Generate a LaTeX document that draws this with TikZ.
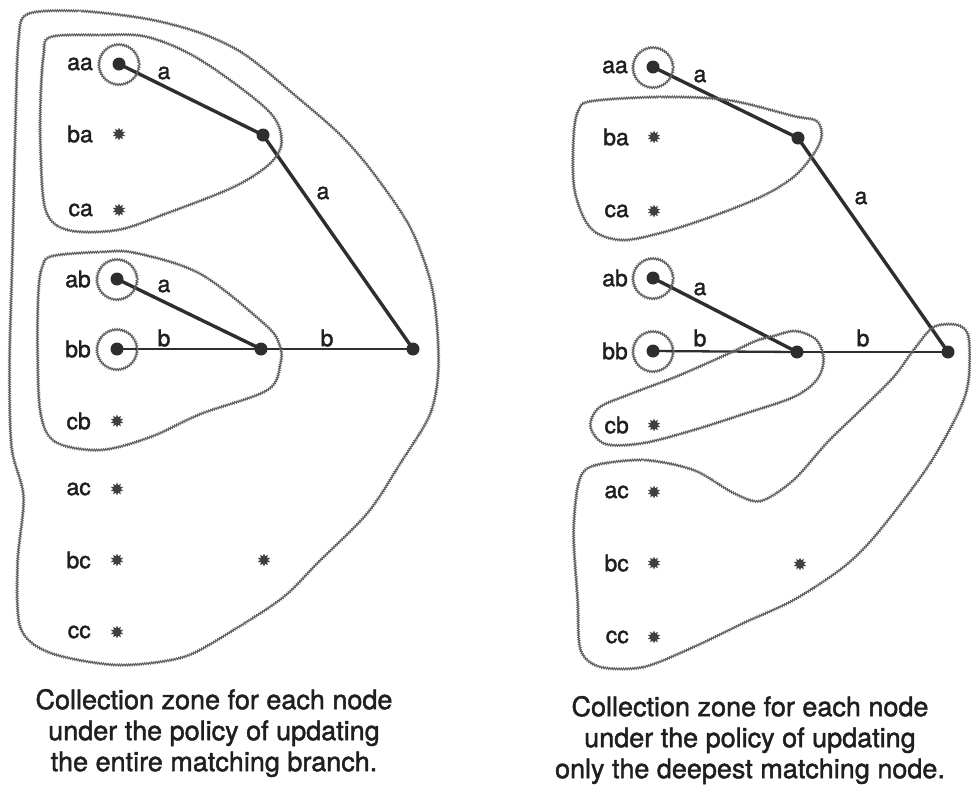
\documentclass[tikz,border=0pt]{standalone}
\usepackage{fontspec}
\setmainfont[FakeBold=1.6]{TeX Gyre Heros}
\usetikzlibrary{shapes.geometric,decorations.pathmorphing}
\tikzset{
  zone/.style={draw=black!62, line width=1.1pt, decorate,
    decoration={snake, amplitude=0.9pt, segment length=2.3pt}},
  leafdot/.style={circle, fill=black!82, inner sep=0pt, minimum size=13pt},
  innerdot/.style={circle, fill=black!82, inner sep=0pt, minimum size=13pt},
  stardot/.style={star, star points=10, star point ratio=1.7, fill=black!75, inner sep=0pt, minimum size=13pt},
  thickedge/.style={draw=black!82, line width=3.4pt},
  thinedge/.style={draw=black!82, line width=2.3pt},
  lbl/.style={font=\fontsize{23}{23}\selectfont, inner sep=0pt, text=black!88},
  captext/.style={font=\fontsize{27}{31}\selectfont, align=center, inner sep=0pt, text=black!88},
}
\begin{document}
\begin{tikzpicture}[x=1pt,y=-1pt]
\useasboundingbox (0,0) rectangle (971,788);

% ---------------- left diagram ----------------
\node[leafdot] (laa) at (119,64) {};
\node[stardot] (lba) at (119,134) {};
\node[stardot] (lca) at (119,210) {};
\node[leafdot] (lab) at (117,279) {};
\node[leafdot] (lbb) at (117,349) {};
\node[stardot] (lcb) at (117,421) {};
\node[stardot] (lac) at (117,489) {};
\node[stardot] (lbc) at (117,560) {};
\node[stardot] (lcc) at (117,632) {};
\node[innerdot] (lA) at (263,135) {};
\node[innerdot] (lB) at (261,349) {};
\node[stardot] (lC) at (264,560) {};
\node[innerdot] (lR) at (413,349) {};

\foreach \n/\t in {laa/aa,lba/ba,lca/ca,lab/ab,lbb/bb,lcb/cb,lac/ac,lbc/bc,lcc/cc}
  \node[lbl, anchor=east] (\n-t) at ([xshift=-26pt]\n.center) {\t};

\draw[thickedge] (laa.center) -- (lA.center);
\draw[thickedge] (lA.center) -- (lR.center);
\draw[thickedge] (lab.center) -- (lB.center);
\draw[thinedge] (lbb.center) -- (lB.center);
\draw[thinedge] (lB.center) -- (lR.center);

\node[lbl] (le1) at (164,73) {a};
\node[lbl] (le2) at (323,193) {a};
\node[lbl] (le3) at (164,286) {a};
\node[lbl] (le4) at (164,338) {b};
\node[lbl] (le5) at (327,338) {b};

\draw[zone] (laa) circle (20);
\draw[zone] (lab) circle (20);
\draw[zone] (lbb) circle (20);

\draw[zone] plot[smooth cycle, tension=0.55] coordinates {
  (50,37) (100,35) (147,37) (200,60) (267,110) (281,140) (270,163)
  (233,187) (167,213) (117,230) (67,230) (45,210) (40,150) (40,100) (43,55)};

\draw[zone] plot[smooth cycle, tension=0.55] coordinates {
  (52,256) (100,252) (135,253) (200,274) (265,325) (279,345) (280,363)
  (267,390) (200,414) (150,437) (100,450) (55,442) (40,413) (37,347) (38,290) (42,266)};

\draw[zone] plot[smooth cycle, tension=0.5] coordinates {
  (27,14) (80,11) (147,19) (200,33) (245,55) (300,100) (340,135) (372,172)
  (410,228) (432,290) (438,363) (430,413) (400,463) (367,513) (317,563)
  (283,597) (233,630) (183,657) (117,665) (50,653) (20,628) (17,563)
  (23,497) (11,447) (9,363) (12,250) (15,120) (18,40)};

\node[captext] (lcap) at (214,733) {Collection zone for each node\\under the policy of updating\\the entire matching branch.};

% ---------------- right diagram ----------------
\node[leafdot] (raa) at (653,67) {};
\node[stardot] (rba) at (654,137) {};
\node[stardot] (rca) at (654,211) {};
\node[leafdot] (rab) at (653,278) {};
\node[leafdot] (rbb) at (653,351) {};
\node[stardot] (rcb) at (654,425) {};
\node[stardot] (rac) at (654,492) {};
\node[stardot] (rbc) at (654,563) {};
\node[stardot] (rcc) at (654,637) {};
\node[innerdot] (rA) at (798,138) {};
\node[innerdot] (rB) at (797,352) {};
\node[stardot] (rC) at (800,564) {};
\node[innerdot] (rR) at (948,352) {};

\foreach \n/\t in {raa/aa,rba/ba,rca/ca,rab/ab,rbb/bb,rcb/cb,rac/ac,rbc/bc,rcc/cc}
  \node[lbl, anchor=east] (\n-t) at ([xshift=-25pt]\n.center) {\t};

\draw[thickedge] (raa.center) -- (rA.center);
\draw[thickedge] (rA.center) -- (rR.center);
\draw[thickedge] (rab.center) -- (rB.center);
\draw[thinedge] (rbb.center) -- (rB.center);
\draw[thinedge] (rB.center) -- (rR.center);

\node[lbl] (re1) at (700,76) {a};
\node[lbl] (re2) at (861,198) {a};
\node[lbl] (re3) at (700,289) {a};
\node[lbl] (re4) at (700,338) {b};
\node[lbl] (re5) at (863,338) {b};

\draw[zone] (raa) circle (20);
\draw[zone] (rab) circle (20);
\draw[zone] (rbb) circle (20);

\draw[zone] plot[smooth cycle, tension=0.55] coordinates {
  (592,101) (660,97) (727,100) (793,116) (816,121) (821,136) (813,154)
  (793,177) (760,197) (710,217) (660,233) (620,240) (590,228) (574,190)
  (573,137) (578,110)};

\draw[zone] plot[smooth cycle, tension=0.55] coordinates {
  (773,336) (795,331) (816,340) (823,360) (816,380) (793,397) (743,414)
  (693,430) (643,443) (605,444) (590,427) (598,408) (627,395) (677,376)
  (727,354) (755,341)};

\draw[zone] plot[smooth cycle, tension=0.5] coordinates {
  (592,466) (643,460) (693,470) (733,493) (760,501) (793,480) (827,442)
  (860,410) (893,377) (913,350) (933,327) (957,325) (968,337) (968,380)
  (958,412) (927,467) (877,533) (843,567) (793,600) (743,623) (693,647)
  (643,667) (600,667) (580,650) (577,600) (573,533) (578,483)};

\node[captext] (rcap) at (750,740) {Collection zone for each node\\under the policy of updating\\only the deepest matching node.};
\end{tikzpicture}
\end{document}
